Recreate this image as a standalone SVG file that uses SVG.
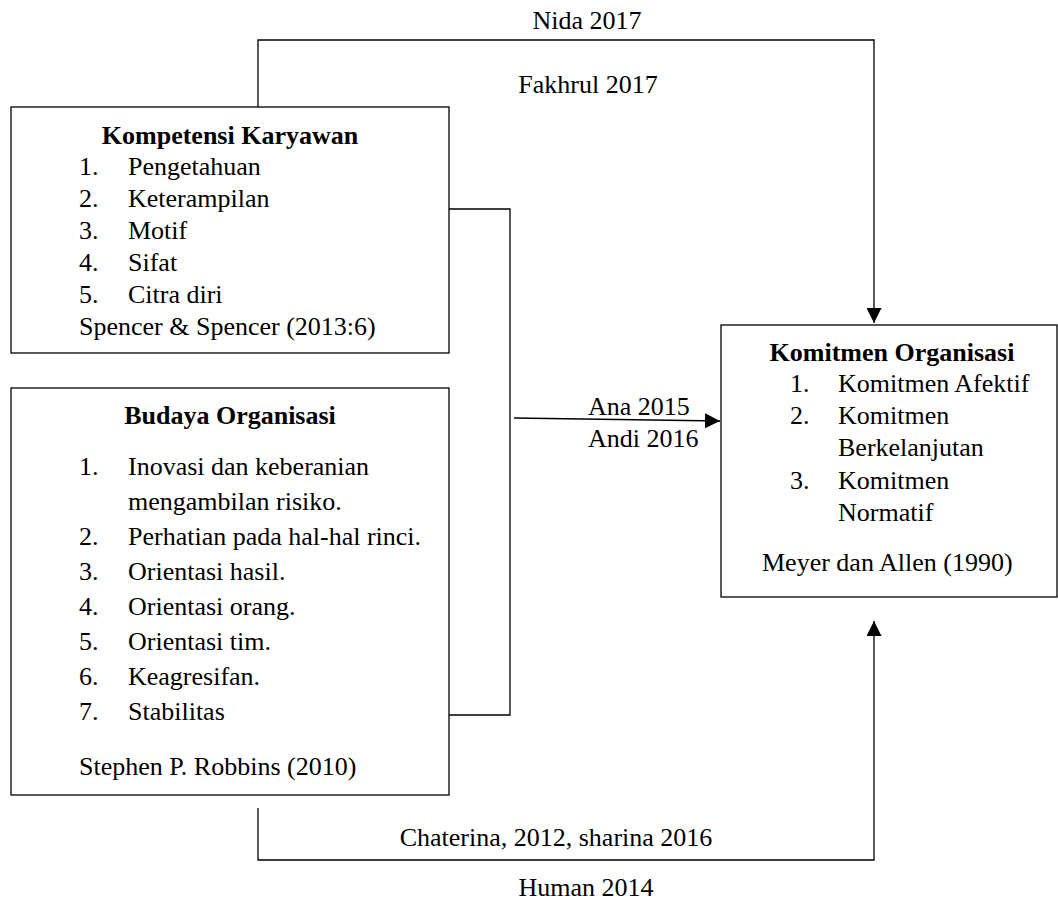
<svg xmlns="http://www.w3.org/2000/svg" width="1058" height="912" viewBox="0 0 1058 912">
<style>
.box{fill:#fff;stroke:#000;stroke-width:1.3}
.t{font-family:"Liberation Serif","Times New Roman",serif;font-size:26px;fill:#000}
.b{font-weight:bold}
.c{text-anchor:middle}
.ln{fill:none;stroke:#000;stroke-width:1.3}
</style>
<defs>
<marker id="ah" viewBox="0 0 10 10" refX="10" refY="5" markerWidth="15" markerHeight="15" markerUnits="userSpaceOnUse" orient="auto">
<path d="M0,0 L10,5 L0,10 z" fill="#000"/>
</marker>
</defs>
<rect width="1058" height="912" fill="#fff"/>
<g id="connectors">
<path class="ln" d="M258,107 V40 H874 V323" marker-end="url(#ah)"/>
<path class="ln" d="M258,808 V860 H874 V621" marker-end="url(#ah)"/>
<path class="ln" d="M447,209 H510 V715 H447"/>
<path class="ln" d="M514,418 L720,421" marker-end="url(#ah)"/>
<text class="t c" x="587" y="29">Nida 2017</text>
<text class="t c" x="588" y="93">Fakhrul 2017</text>
<text class="t" x="588" y="415">Ana 2015</text>
<text class="t" x="588" y="447">Andi 2016</text>
<text class="t c" x="556" y="846">Chaterina, 2012, sharina 2016</text>
<text class="t c" x="586" y="896">Human 2014</text>
</g>
<g id="kompetensi">
<rect class="box" x="11" y="107" width="438" height="246"/>
<text class="t b c" x="230" y="144">Kompetensi Karyawan</text>
<text class="t" x="79" y="175">1.</text><text class="t" x="128" y="175">Pengetahuan</text>
<text class="t" x="79" y="207">2.</text><text class="t" x="128" y="207">Keterampilan</text>
<text class="t" x="79" y="239">3.</text><text class="t" x="128" y="239">Motif</text>
<text class="t" x="79" y="271">4.</text><text class="t" x="128" y="271">Sifat</text>
<text class="t" x="79" y="303">5.</text><text class="t" x="128" y="303">Citra diri</text>
<text class="t" x="79" y="335">Spencer &amp; Spencer (2013:6)</text>
</g>
<g id="budaya">
<rect class="box" x="11" y="388" width="438" height="407"/>
<text class="t b c" x="230" y="424">Budaya Organisasi</text>
<text class="t" x="79" y="475">1.</text><text class="t" x="128" y="475">Inovasi dan keberanian</text>
<text class="t" x="128" y="510">mengambilan risiko.</text>
<text class="t" x="79" y="545">2.</text><text class="t" x="128" y="545">Perhatian pada hal-hal rinci.</text>
<text class="t" x="79" y="580">3.</text><text class="t" x="128" y="580">Orientasi hasil.</text>
<text class="t" x="79" y="615">4.</text><text class="t" x="128" y="615">Orientasi orang.</text>
<text class="t" x="79" y="650">5.</text><text class="t" x="128" y="650">Orientasi tim.</text>
<text class="t" x="79" y="685">6.</text><text class="t" x="128" y="685">Keagresifan.</text>
<text class="t" x="79" y="720">7.</text><text class="t" x="128" y="720">Stabilitas</text>
<text class="t" x="79" y="775">Stephen P. Robbins (2010)</text>
</g>
<g id="komitmen">
<rect class="box" x="721" y="325" width="336" height="272"/>
<text class="t b c" x="892" y="361">Komitmen Organisasi</text>
<text class="t" x="790" y="392">1.</text><text class="t" x="838" y="392">Komitmen Afektif</text>
<text class="t" x="790" y="424">2.</text><text class="t" x="838" y="424">Komitmen</text>
<text class="t" x="838" y="456">Berkelanjutan</text>
<text class="t" x="790" y="489">3.</text><text class="t" x="838" y="489">Komitmen</text>
<text class="t" x="838" y="521">Normatif</text>
<text class="t" x="762" y="571">Meyer dan Allen (1990)</text>
</g>
</svg>
